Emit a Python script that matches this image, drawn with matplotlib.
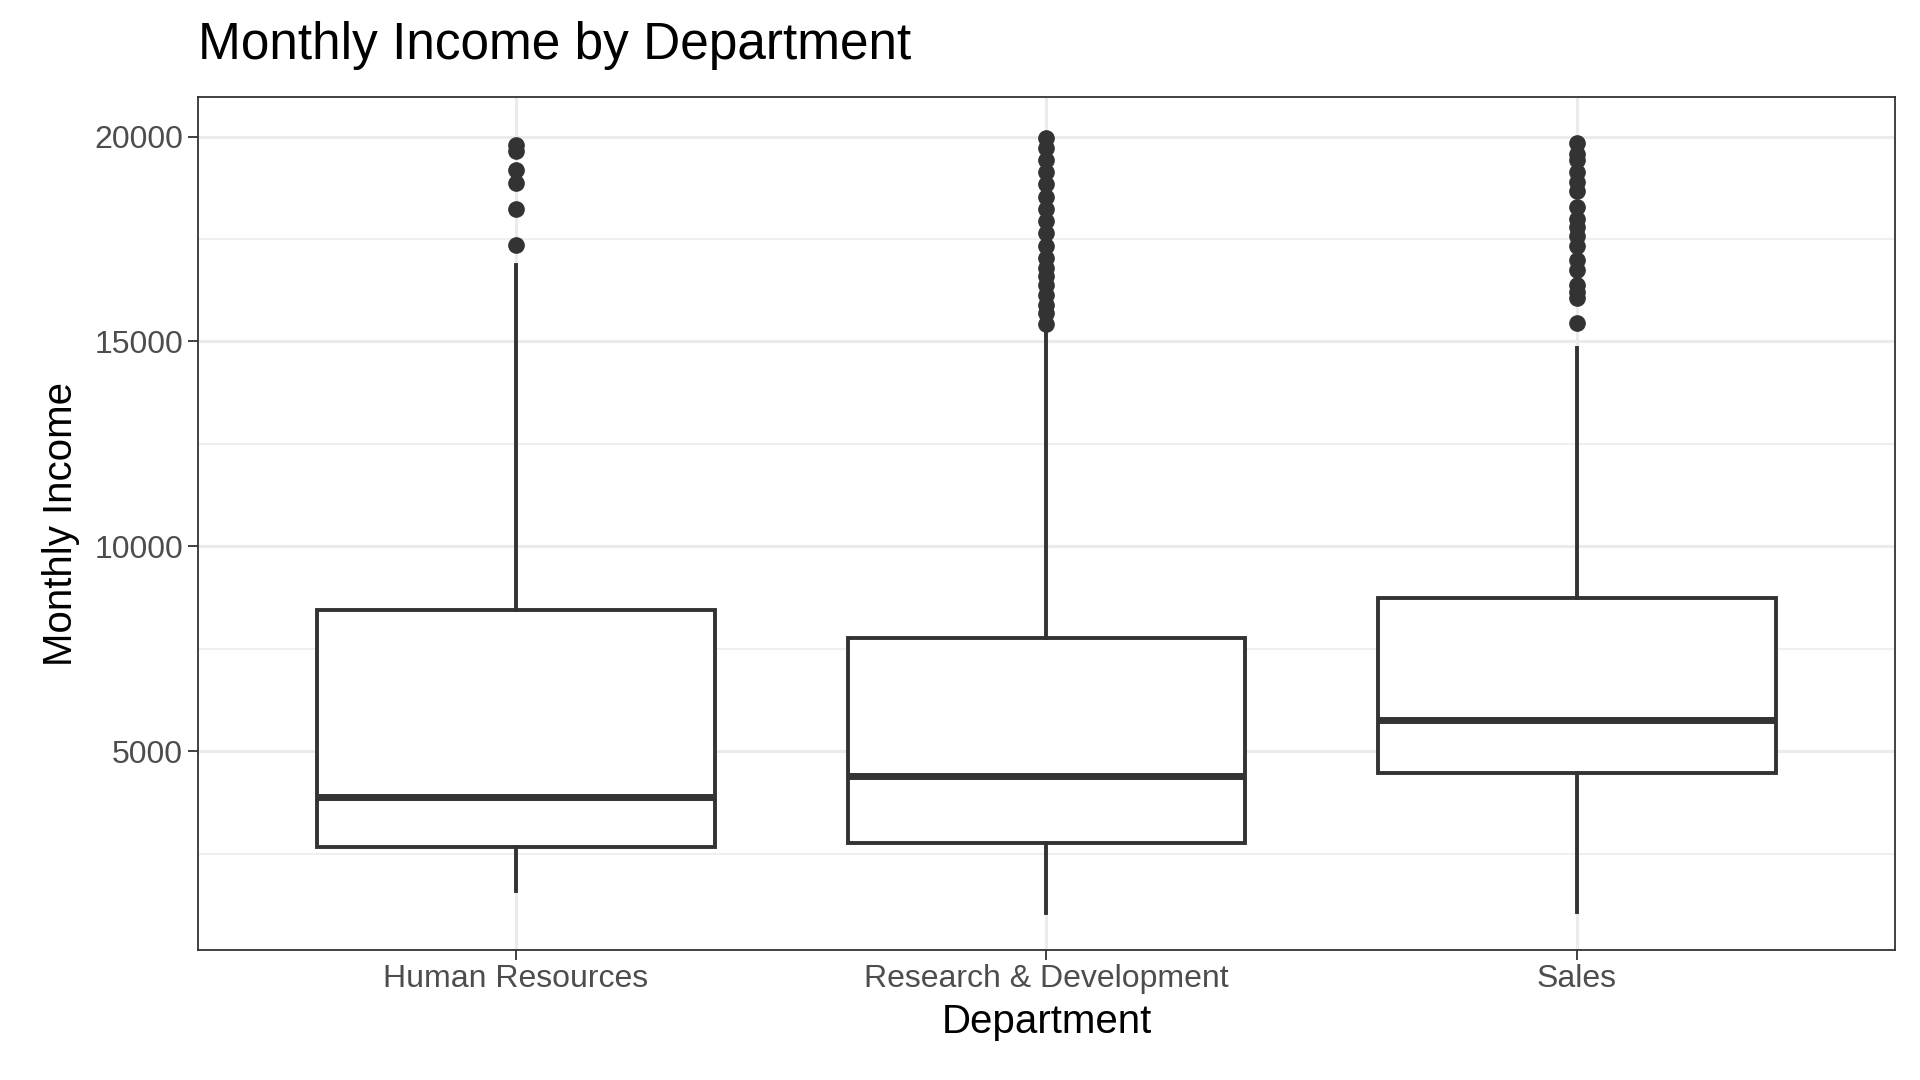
import matplotlib
matplotlib.use("Agg")
import matplotlib.pyplot as plt

departments = ["Human Resources", "Research & Development", "Sales"]
whislo = [1590, 1050, 1080]
q1 = [2670, 2750, 4460]
med = [3890, 4400, 5750]
q3 = [8440, 7750, 8740]
whishi = [16860, 15200, 14850]
outliers = [
    [17360, 18230, 18860, 19190, 19640, 19790],
    [15420, 15690, 15900, 16140, 16380, 16590, 16800, 17040, 17340, 17640,
     17930, 18230, 18530, 18830, 19130, 19430, 19730, 19970],
    [15450, 16050, 16200, 16380, 16740, 16980, 17340, 17580, 17780, 17990,
     18290, 18680, 18890, 19130, 19430, 19580, 19850],
]

plt.rcParams['font.family'] = ['Liberation Sans', 'DejaVu Sans']
fig = plt.figure(figsize=(19.2, 10.8), dpi=100)
ax = fig.add_axes([0.103, 0.1205, 0.884, 0.7895])

stats = []
for i in range(3):
    stats.append(dict(label=departments[i], whislo=whislo[i], q1=q1[i], med=med[i],
                      q3=q3[i], whishi=whishi[i], fliers=outliers[i]))

c = '#333333'
ax.bxp(stats, positions=[1, 2, 3], widths=0.75, showcaps=False, patch_artist=True,
       boxprops=dict(facecolor='white', edgecolor=c, linewidth=2.8),
       whiskerprops=dict(color=c, linewidth=2.8),
       medianprops=dict(color=c, linewidth=5),
       flierprops=dict(marker='o', markerfacecolor=c, markeredgecolor=c, markersize=11),
       zorder=3)

ax.set_xlim(0.4, 3.6)
ax.set_ylim(150, 20960)
ax.set_yticks([5000, 10000, 15000, 20000])
ax.set_yticks([2500, 7500, 12500, 17500], minor=True)
ax.grid(True, which='major', color='#ebebeb', linewidth=2.2, zorder=0)
ax.grid(True, which='minor', axis='y', color='#ebebeb', linewidth=1.1, zorder=0)
ax.set_axisbelow(True)
for s in ax.spines.values():
    s.set_color('#333333')
    s.set_linewidth(1.3)
ax.tick_params(axis='both', labelsize=23, labelcolor='#4d4d4d', color='#333333', length=7, width=1.3)
ax.tick_params(which='minor', length=0)

ax.set_xlabel('Department', fontsize=29, labelpad=6)
ax.set_ylabel('Monthly Income', fontsize=29, labelpad=10)
fig.text(0.103, 0.935, 'Monthly Income by Department', fontsize=37, ha='left', va='bottom')

fig.savefig('out.png', dpi=100)
